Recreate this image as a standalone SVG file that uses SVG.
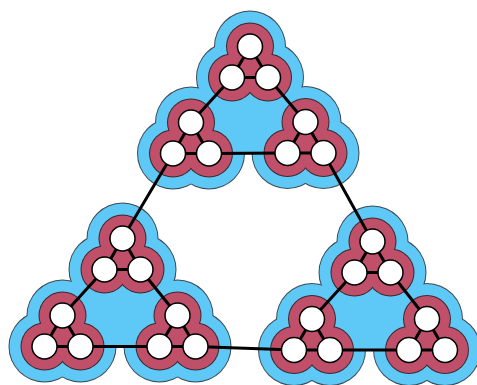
<svg xmlns="http://www.w3.org/2000/svg" xmlns:xlink="http://www.w3.org/1999/xlink" width="477" height="385" viewBox="0 0 477 385">
<style>
.bo{fill:#3c4a55}
.bi{fill:#5ec8f6}
.ro{fill:#3a2a30}
.ri{fill:#c0506a}
.e{stroke:#000;stroke-width:3;stroke-linecap:round;fill:none}
.n{fill:#fff;stroke:#000;stroke-width:1.5}
</style>
<defs>
<g id="sBO"><circle cx="0" cy="0" r="36"/><circle cx="-18" cy="31" r="36"/><circle cx="18" cy="31" r="36"/></g>
<g id="sBI"><circle cx="0" cy="0" r="35"/><circle cx="-18" cy="31" r="35"/><circle cx="18" cy="31" r="35"/></g>
<g id="sRO"><circle cx="0" cy="0" r="24"/><circle cx="-18" cy="31" r="24"/><circle cx="18" cy="31" r="24"/></g>
<g id="sRI"><circle cx="0" cy="0" r="23"/><circle cx="-18" cy="31" r="23"/><circle cx="18" cy="31" r="23"/></g>
</defs>
<g id="blue-outline" class="bo">
<use xlink:href="#sBO" x="250" y="46.5"/><use xlink:href="#sBO" x="191" y="122.5"/><use xlink:href="#sBO" x="305.5" y="122"/>
<use xlink:href="#sBO" x="122.5" y="238.5"/><use xlink:href="#sBO" x="62.5" y="315.5"/><use xlink:href="#sBO" x="177.5" y="315.5"/>
<use xlink:href="#sBO" x="372.5" y="241.5"/><use xlink:href="#sBO" x="312" y="319"/><use xlink:href="#sBO" x="427" y="319"/>
</g>
<g id="blue-fill" class="bi">
<use xlink:href="#sBI" x="250" y="46.5"/><use xlink:href="#sBI" x="191" y="122.5"/><use xlink:href="#sBI" x="305.5" y="122"/>
<use xlink:href="#sBI" x="122.5" y="238.5"/><use xlink:href="#sBI" x="62.5" y="315.5"/><use xlink:href="#sBI" x="177.5" y="315.5"/>
<use xlink:href="#sBI" x="372.5" y="241.5"/><use xlink:href="#sBI" x="312" y="319"/><use xlink:href="#sBI" x="427" y="319"/>
<polygon points="250,46.5 173,153.5 323.5,153"/>
<polygon points="122.5,238.5 44.5,346.5 195.5,346.5"/>
<polygon points="372.5,241.5 294,350 445,350"/>
</g>
<g id="red-outline" class="ro">
<use xlink:href="#sRO" x="250" y="46.5"/><use xlink:href="#sRO" x="191" y="122.5"/><use xlink:href="#sRO" x="305.5" y="122"/>
<use xlink:href="#sRO" x="122.5" y="238.5"/><use xlink:href="#sRO" x="62.5" y="315.5"/><use xlink:href="#sRO" x="177.5" y="315.5"/>
<use xlink:href="#sRO" x="372.5" y="241.5"/><use xlink:href="#sRO" x="312" y="319"/><use xlink:href="#sRO" x="427" y="319"/>
</g>
<g id="red-fill" class="ri">
<use xlink:href="#sRI" x="250" y="46.5"/><use xlink:href="#sRI" x="191" y="122.5"/><use xlink:href="#sRI" x="305.5" y="122"/>
<use xlink:href="#sRI" x="122.5" y="238.5"/><use xlink:href="#sRI" x="62.5" y="315.5"/><use xlink:href="#sRI" x="177.5" y="315.5"/>
<use xlink:href="#sRI" x="372.5" y="241.5"/><use xlink:href="#sRI" x="312" y="319"/><use xlink:href="#sRI" x="427" y="319"/>
</g>
<g id="connectors" class="e">
<path d="M250,46.5L232,77.5L268,77.5Z M191,122.5L173,153.5L209,153.5Z M305.5,122L287.5,153L323.5,153Z"/>
<path d="M122.5,238.5L104.5,269.5L140.5,269.5Z M62.5,315.5L44.5,346.5L80.5,346.5Z M177.5,315.5L159.5,346.5L195.5,346.5Z"/>
<path d="M372.5,241.5L354.5,272.5L390.5,272.5Z M312,319L294,350L330,350Z M427,319L409,350L445,350Z"/>
<path d="M232,77.5L191,122.5 M268,77.5L305.5,122 M209,153.5L287.5,153"/>
<path d="M104.5,269.5L62.5,315.5 M140.5,269.5L177.5,315.5 M80.5,346.5L159.5,346.5"/>
<path d="M354.5,272.5L312,319 M390.5,272.5L427,319 M330,350L409,350"/>
<path d="M173,153.5L122.5,238.5 M323.5,153L372.5,241.5 M195.5,346.5L294,350"/>
</g>
<g id="n-A1"><circle class="n" cx="250" cy="46.5" r="12.5"/></g>
<g id="n-A2"><circle class="n" cx="232" cy="77.5" r="12.5"/></g>
<g id="n-A3"><circle class="n" cx="268" cy="77.5" r="12.5"/></g>
<g id="n-B1"><circle class="n" cx="191" cy="122.5" r="12.5"/></g>
<g id="n-B2"><circle class="n" cx="173" cy="153.5" r="12.5"/></g>
<g id="n-B3"><circle class="n" cx="209" cy="153.5" r="12.5"/></g>
<g id="n-C1"><circle class="n" cx="305.5" cy="122" r="12.5"/></g>
<g id="n-C2"><circle class="n" cx="287.5" cy="153" r="12.5"/></g>
<g id="n-C3"><circle class="n" cx="323.5" cy="153" r="12.5"/></g>
<g id="n-D1"><circle class="n" cx="122.5" cy="238.5" r="12.5"/></g>
<g id="n-D2"><circle class="n" cx="104.5" cy="269.5" r="12.5"/></g>
<g id="n-D3"><circle class="n" cx="140.5" cy="269.5" r="12.5"/></g>
<g id="n-E1"><circle class="n" cx="62.5" cy="315.5" r="12.5"/></g>
<g id="n-E2"><circle class="n" cx="44.5" cy="346.5" r="12.5"/></g>
<g id="n-E3"><circle class="n" cx="80.5" cy="346.5" r="12.5"/></g>
<g id="n-F1"><circle class="n" cx="177.5" cy="315.5" r="12.5"/></g>
<g id="n-F2"><circle class="n" cx="159.5" cy="346.5" r="12.5"/></g>
<g id="n-F3"><circle class="n" cx="195.5" cy="346.5" r="12.5"/></g>
<g id="n-G1"><circle class="n" cx="372.5" cy="241.5" r="12.5"/></g>
<g id="n-G2"><circle class="n" cx="354.5" cy="272.5" r="12.5"/></g>
<g id="n-G3"><circle class="n" cx="390.5" cy="272.5" r="12.5"/></g>
<g id="n-H1"><circle class="n" cx="312" cy="319" r="12.5"/></g>
<g id="n-H2"><circle class="n" cx="294" cy="350" r="12.5"/></g>
<g id="n-H3"><circle class="n" cx="330" cy="350" r="12.5"/></g>
<g id="n-I1"><circle class="n" cx="427" cy="319" r="12.5"/></g>
<g id="n-I2"><circle class="n" cx="409" cy="350" r="12.5"/></g>
<g id="n-I3"><circle class="n" cx="445" cy="350" r="12.5"/></g>
</svg>
